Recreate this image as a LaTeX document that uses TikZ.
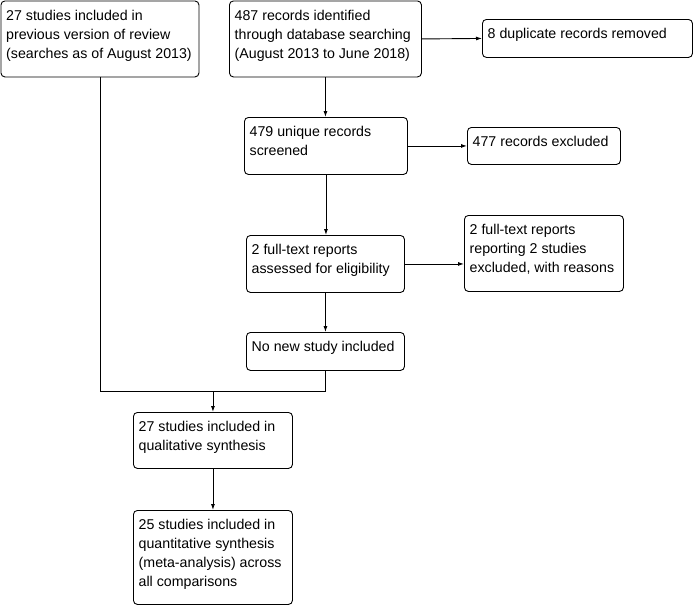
\documentclass[tikz,border=0pt]{standalone}
\usepackage{fontspec}
\setmainfont{Liberation Sans}
\usetikzlibrary{arrows.meta}
\begin{document}
\begin{tikzpicture}[x=1pt,y=-1pt,
  box/.style={draw=black, line width=0.9pt, rounded corners=4pt, anchor=north west, inner sep=0pt, fill=white},
  txt/.style={anchor=north west, inner sep=0pt, align=left, font=\fontsize{14.2}{19}\selectfont},
  conn/.style={draw=black, line width=0.9pt},
  arr/.style={conn, -{Latex[length=6pt,width=4pt]}}]
\useasboundingbox (0,0) rectangle (694,605);
% boxes
\node[box, minimum width=198, minimum height=76] (b1) at (0.5,0.5) {};
\node[box, minimum width=192, minimum height=76] (b2) at (229,0.5) {};
\node[box, minimum width=210, minimum height=38] (b3) at (482,19) {};
\node[box, minimum width=163, minimum height=57] (b4) at (244,117) {};
\node[box, minimum width=153, minimum height=37] (b5) at (467,127) {};
\node[box, minimum width=158, minimum height=57] (b6) at (246,235) {};
\node[box, minimum width=159, minimum height=76] (b7) at (464,215) {};
\node[box, minimum width=158, minimum height=38] (b8) at (246,332) {};
\node[box, minimum width=159, minimum height=56] (b9) at (133,412) {};
\node[box, minimum width=159, minimum height=94] (b10) at (133,510) {};
% texts
\node[txt] (t1) at ([shift={(5.5,9.5)}]b1.north west) {27 studies included in\\previous version of review\\(searches as of August 2013)};
\node[txt] (t2) at ([shift={(5.5,9.5)}]b2.north west) {487 records identified\\through database searching\\(August 2013 to June 2018)};
\node[txt] (t3) at ([shift={(5.5,9.5)}]b3.north west) {8 duplicate records removed};
\node[txt] (t4) at ([shift={(5.5,9.5)}]b4.north west) {479 unique records\\screened};
\node[txt] (t5) at ([shift={(5.5,9.5)}]b5.north west) {477 records excluded};
\node[txt] (t6) at ([shift={(5.5,9.5)}]b6.north west) {2 full-text reports\\assessed for eligibility};
\node[txt] (t7) at ([shift={(5.5,9.5)}]b7.north west) {2 full-text reports\\reporting 2 studies\\excluded, with reasons};
\node[txt] (t8) at ([shift={(5.5,9.5)}]b8.north west) {No new study included};
\node[txt] (t9) at ([shift={(5.5,9.5)}]b9.north west) {27 studies included in\\qualitative synthesis};
\node[txt] (t10) at ([shift={(5.5,9.5)}]b10.north west) {25 studies included in\\quantitative synthesis\\(meta-analysis) across\\all comparisons};
% connectors
\draw[arr] (b2.east) -- (b3.west);
\draw[arr] (b2.south) -- (b2.south |- b4.north);
\draw[arr] (b4.east) -- (b5.west);
\draw[arr] (b4.south) -- (b4.south |- b6.north);
\draw[arr] (b6.east) -- (b6.east -| b7.west);
\draw[arr] (b6.south) -- (b6.south |- b8.north);
\coordinate (m) at (b9.north |- 0,391);
\draw[conn] (b1.south) |- (m);
\draw[conn] (b8.south) |- (m);
\draw[arr] (m) -- (b9.north);
\draw[arr] (b9.south) -- (b10.north);
\end{tikzpicture}
\end{document}
